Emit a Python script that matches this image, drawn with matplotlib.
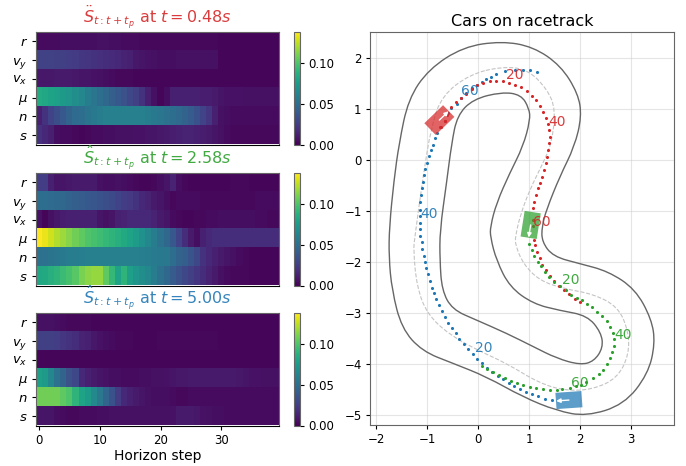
import numpy as np
import matplotlib
matplotlib.use('Agg')
import matplotlib.pyplot as plt
from matplotlib.path import Path
from matplotlib.patches import PathPatch, Polygon

state_labels = ['$r$', '$v_y$', '$v_x$', '$\\mu$', '$n$', '$s$']
step_ticks = [0, 10, 20, 30]

# attention maps, one row per state, 40 horizon steps
p1_r = [.004,.004,.004,.004,.005,.005,.005,.005,.005,.005,.006,.006,.005,.005,.004,.004,.004,.003,.003,.003,.003,.003,.003,.003,.003,.003,.003,.003,.003,.003,.002,.002,.002,.002,.002,.002,.002,.002,.002,.002]
p1_vy = [.027,.027,.027,.026,.026,.025,.024,.022,.021,.02,.019,.018,.017,.016,.014,.012,.009,.008,.007,.006,.005,.005,.005,.006,.006,.006,.006,.006,.006,.006,.002,.002,.002,.002,.002,.002,.002,.002,.002,.002]
p1_vx = [.009,.009,.009,.01,.01,.01,.009,.008,.008,.007,.006,.005,.004,.003,.003,.003,.002,.002,.002,.002,.002,.002,.002,.002,.002,.002,.002,.002,.002,.002,.002,.002,.002,.002,.002,.002,.002,.002,.002,.002]
p1_mu = [.085,.083,.08,.078,.075,.072,.068,.064,.058,.054,.05,.046,.042,.038,.034,.03,.026,.02,.012,.006,.002,.005,.012,.012,.012,.012,.012,.011,.011,.01,.008,.007,.007,.007,.006,.006,.006,.006,.006,.006]
p1_n = [.012,.02,.028,.033,.038,.044,.048,.05,.053,.056,.058,.06,.06,.06,.06,.06,.06,.06,.058,.056,.054,.052,.05,.047,.044,.04,.035,.028,.022,.012,.006,.005,.004,.004,.004,.004,.004,.004,.004,.004]
p1_s = [.02,.016,.012,.005,.004,.004,.003,.002,.003,.004,.004,.005,.005,.006,.006,.006,.007,.007,.008,.008,.009,.01,.011,.012,.013,.013,.012,.011,.01,.008,.006,.004,.003,.003,.003,.003,.003,.003,.003,.003]

p2_r = [.025,.025,.012,.008,.008,.009,.01,.01,.01,.01,.006,.005,.005,.006,.005,.004,.003,.002,.002,.003,.005,.008,.014,.005,.003,.002,.002,.002,.002,.002,.002,.002,.003,.003,.003,.002,.002,.002,.002,.002]
p2_vy = [.05,.05,.048,.047,.046,.044,.042,.04,.038,.037,.035,.033,.031,.028,.025,.023,.02,.016,.013,.01,.008,.005,.003,.004,.004,.004,.004,.003,.003,.003,.003,.003,.003,.003,.003,.003,.004,.004,.004,.004]
p2_vx = [.007,.002,.006,.009,.011,.012,.012,.012,.012,.012,.008,.006,.008,.012,.014,.016,.016,.016,.016,.014,.01,.008,.004,.003,.002,.002,.003,.003,.004,.004,.005,.005,.005,.005,.005,.005,.004,.004,.003,.003]
p2_mu = [.138,.134,.128,.122,.118,.113,.108,.104,.1,.098,.095,.092,.09,.087,.084,.08,.076,.07,.064,.058,.052,.046,.038,.028,.018,.01,.005,.012,.016,.018,.018,.018,.018,.018,.018,.018,.018,.018,.018,.018]
p2_n = [.052,.052,.053,.054,.056,.058,.058,.059,.06,.06,.06,.06,.06,.06,.06,.06,.06,.059,.058,.057,.056,.055,.05,.044,.042,.036,.03,.02,.016,.012,.01,.008,.006,.004,.003,.002,.002,.002,.002,.002]
p2_s = [.082,.084,.087,.09,.094,.098,.102,.11,.114,.116,.116,.104,.092,.08,.09,.078,.072,.068,.064,.058,.052,.046,.04,.034,.03,.026,.022,.018,.014,.01,.006,.004,.003,.003,.003,.002,.002,.002,.002,.002]

p3_r = [.006,.006,.006,.005,.004,.003,.003,.003,.003,.002,.002,.002,.002,.002,.002,.002,.002,.002,.002,.002,.002,.002,.002,.002,.002,.002,.002,.002,.002,.002,.002,.002,.002,.002,.002,.002,.002,.002,.002,.002]
p3_vy = [.026,.026,.026,.025,.022,.02,.018,.014,.012,.009,.007,.005,.004,.003,.003,.003,.002,.002,.002,.002,.003,.003,.003,.003,.003,.003,.003,.003,.003,.003,.002,.002,.002,.002,.002,.002,.002,.002,.002,.002]
p3_vx = [.002,.002,.002,.002,.002,.002,.002,.002,.002,.002,.002,.002,.002,.002,.002,.002,.002,.002,.002,.002,.002,.002,.002,.002,.002,.002,.002,.002,.002,.002,.002,.002,.002,.002,.002,.002,.002,.002,.002,.002]
p3_mu = [.078,.075,.064,.052,.044,.034,.03,.016,.012,.01,.008,.007,.005,.005,.004,.004,.004,.005,.005,.006,.006,.007,.008,.009,.009,.01,.01,.01,.01,.01,.01,.01,.01,.009,.008,.007,.007,.006,.006,.006]
p3_n = [.108,.108,.108,.108,.104,.1,.09,.08,.075,.065,.055,.045,.035,.024,.016,.012,.01,.008,.006,.005,.005,.005,.004,.003,.003,.004,.004,.004,.004,.004,.004,.004,.004,.004,.004,.004,.004,.004,.004,.004]
p3_s = [.008,.008,.008,.005,.004,.003,.003,.004,.004,.004,.005,.005,.006,.006,.006,.006,.006,.006,.006,.006,.006,.006,.007,.01,.01,.01,.009,.007,.006,.005,.005,.004,.004,.004,.004,.004,.004,.004,.004,.004]

map_1 = np.array([p1_r, p1_vy, p1_vx, p1_mu, p1_n, p1_s])
map_2 = np.array([p2_r, p2_vy, p2_vx, p2_mu, p2_n, p2_s])
map_3 = np.array([p3_r, p3_vy, p3_vx, p3_mu, p3_n, p3_s])
map_max = 0.138

outer_x = [0.46,1.08,1.62,1.96,2.03,1.89,1.6,1.34,1.25,1.25,1.47,1.99,2.55,3.08,3.4,3.47,3.33,2.86,2.12,1.54,0.88,0.16,-0.49,-1.1,-1.5,-1.69,-1.75,-1.74,-1.65,-1.55,-1.37,-0.97,-0.29]
outer_y = [2.34,2.23,1.86,1.31,0.86,0.27,-0.32,-0.97,-1.3,-1.6,-1.89,-2.03,-2.18,-2.53,-3.12,-3.6,-4.2,-4.8,-5.03,-4.92,-4.65,-4.25,-3.99,-3.75,-3.3,-2.55,-1.9,-1.3,-0.39,0.33,1.2,1.79,2.23]
inner_x = [0.46,0.84,1.0,1.02,0.88,0.62,0.36,0.24,0.24,0.36,0.62,1.08,1.6,2.14,2.41,2.45,2.27,2.0,1.54,1.08,0.56,-0.03,-0.51,-0.71,-0.75,-0.75,-0.62,-0.52,-0.41,-0.1]
inner_y = [1.34,1.29,1.02,0.79,0.27,-0.25,-0.84,-1.3,-1.51,-1.97,-2.49,-2.82,-2.95,-3.05,-3.38,-3.68,-3.95,-4.02,-3.89,-3.66,-3.4,-3.14,-2.93,-2.55,-1.97,-1.38,-0.45,0.33,0.88,1.2]
center_x = [0.46,0.97,1.36,1.52,1.44,1.27,1.01,0.82,0.73,0.73,0.88,1.2,1.67,2.27,2.74,2.94,2.96,2.73,2.25,1.73,1.2,0.56,0.03,-0.56,-1.0,-1.2,-1.27,-1.24,-1.08,-0.92,-0.71,-0.16]
center_y = [1.84,1.79,1.39,0.99,0.33,-0.06,-0.58,-1.1,-1.5,-1.66,-2.03,-2.36,-2.52,-2.63,-2.88,-3.33,-3.81,-4.28,-4.5,-4.53,-4.38,-3.99,-3.75,-3.43,-3.02,-2.49,-1.77,-1.5,-0.32,0.66,1.27,1.69]

blue_x = [1.44,1.31,1.18,1.05,0.93,0.82,0.7,0.6,0.49,0.39,0.28,0.18,0.08,-0.02,-0.11,-0.2,-0.28,-0.37,-0.44,-0.52,-0.59,-0.65,-0.71,-0.76,-0.82,-0.87,-0.91,-0.95,-0.99,-1.02,-1.05,-1.07,-1.1,-1.11,-1.13,-1.13,-1.13,-1.14,-1.14,-1.14,-1.12,-1.11,-1.09,-1.07,-1.04,-1.01,-0.97,-0.93,-0.89,-0.84,-0.8,-0.75,-0.65,-0.59,-0.53,-0.42,-0.33,-0.23,-0.13,-0.03,0.07,0.16,0.26,0.36,0.52,0.72,0.88,1.01,1.16]
blue_y = [-4.71,-4.68,-4.64,-4.59,-4.55,-4.5,-4.43,-4.37,-4.3,-4.24,-4.16,-4.08,-3.99,-3.9,-3.81,-3.71,-3.61,-3.51,-3.4,-3.29,-3.19,-3.08,-2.96,-2.84,-2.73,-2.61,-2.5,-2.37,-2.24,-2.12,-2.0,-1.89,-1.75,-1.6,-1.48,-1.35,-1.23,-1.1,-0.97,-0.81,-0.68,-0.55,-0.42,-0.29,-0.17,-0.05,0.08,0.2,0.31,0.43,0.54,0.65,0.78,0.93,1.03,1.11,1.22,1.33,1.42,1.48,1.53,1.59,1.64,1.69,1.75,1.77,1.77,1.77,1.74]
red_x = [-0.72,-0.65,-0.61,-0.54,-0.44,-0.34,-0.24,-0.13,-0.02,0.1,0.23,0.35,0.48,0.6,0.72,0.85,0.96,1.06,1.14,1.22,1.28,1.33,1.36,1.39,1.4,1.39,1.37,1.35,1.33,1.3,1.26,1.22,1.17,1.13,1.09,1.07,1.07,1.08,1.1,1.12,1.16,1.21,1.26,1.33,1.41,1.49,1.59,1.68,1.79,1.89,2.0]
red_y = [0.66,0.78,0.89,1.05,1.15,1.22,1.3,1.41,1.47,1.52,1.55,1.56,1.55,1.52,1.47,1.43,1.36,1.27,1.18,1.07,0.95,0.84,0.71,0.59,0.46,0.33,0.2,0.07,-0.06,-0.19,-0.32,-0.44,-0.55,-0.68,-0.81,-0.94,-1.17,-1.3,-1.56,-1.66,-1.8,-1.92,-2.05,-2.16,-2.27,-2.38,-2.47,-2.55,-2.63,-2.72,-2.78]
green_x = [1.0,1.05,1.09,1.18,1.24,1.32,1.39,1.49,1.6,1.72,1.82,1.93,2.03,2.14,2.24,2.34,2.43,2.52,2.58,2.64,2.67,2.66,2.63,2.58,2.52,2.45,2.36,2.25,2.12,2.02,1.91,1.8,1.65,1.54,1.41,1.28,1.14,1.01,0.88,0.76,0.64,0.52,0.4,0.29,0.18,0.07]
green_y = [-1.64,-1.77,-1.89,-1.99,-2.08,-2.2,-2.3,-2.39,-2.47,-2.55,-2.64,-2.7,-2.75,-2.82,-2.89,-2.98,-3.06,-3.16,-3.27,-3.39,-3.52,-3.64,-3.77,-3.89,-4.0,-4.12,-4.2,-4.28,-4.35,-4.41,-4.44,-4.48,-4.5,-4.51,-4.51,-4.5,-4.48,-4.46,-4.42,-4.38,-4.34,-4.28,-4.22,-4.16,-4.1,-4.04]

# car: x, y, heading in deg
red_car = [-0.76, 0.79, 44]
green_car = [1.03, -1.27, 261]
blue_car = [1.78, -4.71, 184]
car_len = 0.51
car_wid = 0.32
arrow_len = 0.25

# step labels on the trajectories
red_steps = [('20', 0.72, 1.67), ('40', 1.55, 0.76), ('60', 1.24, -1.22)]
green_steps = [('20', 1.82, -2.36), ('40', 2.84, -3.44), ('60', 2.0, -4.38)]
blue_steps = [('20', 0.11, -3.68), ('40', -0.96, -1.05), ('60', -0.16, 1.37)]

W, H = 686, 466
fig = plt.figure(figsize=(W/100, H/100), dpi=100)

def box(x0, y0, x1, y1):
    return [x0/W, 1-y1/H, (x1-x0)/W, (y1-y0)/H]

def closed_curve(x, y):
    # quadratic curve through the midpoints, keeps the track outline round
    pts = np.column_stack([x, y])
    nxt = np.roll(pts, -1, axis=0)
    mids = (pts+nxt)/2
    verts = [mids[-1]]
    codes = [Path.MOVETO]
    for i in range(len(pts)):
        verts += [pts[i], mids[i]]
        codes += [Path.CURVE3, Path.CURVE3]
    return Path(verts, codes)

def soft_spines(ax):
    for name in ['top', 'left', 'right']:
        ax.spines[name].set_color('#666666')

panels = [
    (map_1, r'$\ddot{S}_{t:t+t_p}$ at $t=0.48s$', 'tab:red', 32),
    (map_2, r'$\hat{S}_{t:t+t_p}$ at $t=2.58s$', 'tab:green', 173),
    (map_3, r'$\hat{S}_{t:t+t_p}$ at $t=5.00s$', 'tab:blue', 313),
]
for i, (data, title, col, top) in enumerate(panels):
    ax = fig.add_axes(box(36, top, 279, top+112.5))
    im = ax.imshow(data, aspect='auto', cmap='viridis', vmin=0, vmax=map_max, interpolation='nearest')
    ax.set_yticks(range(6))
    ax.set_yticklabels(state_labels, fontsize=9.5)
    ax.tick_params(labelsize=8.5, length=3, pad=3)
    ax.tick_params(axis='y', labelsize=9.5)
    ax.set_title(title, color=col, fontsize=11.5, pad=0.5, alpha=0.9)
    soft_spines(ax)
    if i == 2:
        ax.set_xticks(step_ticks)
        ax.set_xlabel('Horizon step', fontsize=10, labelpad=1.5)
    else:
        ax.set_xticks([])
    cax = fig.add_axes(box(294, top, 300, top+112.5))
    cb = fig.colorbar(im, cax=cax)
    cb.set_ticks([0, 0.05, 0.10])
    cb.ax.set_yticklabels(['0.00', '0.05', '0.10'])
    cb.ax.tick_params(labelsize=8.5, length=3, pad=3)
    cb.outline.set_edgecolor('#666666')

ax = fig.add_axes(box(370, 32, 674, 425))
ax.add_patch(PathPatch(closed_curve(outer_x, outer_y), fill=False, ec='#666666', lw=1.0))
ax.add_patch(PathPatch(closed_curve(inner_x, inner_y), fill=False, ec='#666666', lw=1.0))
ax.add_patch(PathPatch(closed_curve(center_x, center_y), fill=False, ec='#c4c4c4', lw=0.8, ls='--'))

ax.scatter(blue_x, blue_y, s=5, color='tab:blue', lw=0, zorder=3)
ax.scatter(red_x, red_y, s=5, color='tab:red', lw=0, zorder=3)
ax.scatter(green_x, green_y, s=5, color='tab:green', lw=0, zorder=3)

for car, col in [(red_car, 'tab:red'), (green_car, 'tab:green'), (blue_car, 'tab:blue')]:
    th = np.radians(car[2])
    d = np.array([np.cos(th), np.sin(th)])
    n = np.array([-np.sin(th), np.cos(th)])
    c = np.array(car[:2])
    corners = [c+d*car_len/2+n*car_wid/2, c+d*car_len/2-n*car_wid/2,
               c-d*car_len/2-n*car_wid/2, c-d*car_len/2+n*car_wid/2]
    ax.add_patch(Polygon(corners, closed=True, fc=col, ec='none', alpha=0.72, zorder=4))
    ax.annotate('', xy=c+d*arrow_len, xytext=c, zorder=5,
                arrowprops=dict(arrowstyle='-|>', color='white', lw=1, mutation_scale=6, shrinkA=0, shrinkB=0))

for steps, col in [(red_steps, 'tab:red'), (green_steps, 'tab:green'), (blue_steps, 'tab:blue')]:
    for txt, x, y in steps:
        ax.text(x, y, txt, color=col, fontsize=10, ha='center', va='center', alpha=0.9, zorder=6)

ax.set_xlim(-2.12, 3.84)
ax.set_ylim(-5.2, 2.52)
ax.set_xticks([-2, -1, 0, 1, 2, 3])
ax.set_yticks([-5, -4, -3, -2, -1, 0, 1, 2])
ax.grid(True, color='#cccccc', alpha=0.5, lw=0.8)
ax.set_axisbelow(True)
ax.tick_params(labelsize=8.5, length=3, pad=3)
ax.set_title('Cars on racetrack', fontsize=11.5, pad=4)
for s in ax.spines.values():
    s.set_color('#666666')

fig.savefig('out.png', dpi=100)
